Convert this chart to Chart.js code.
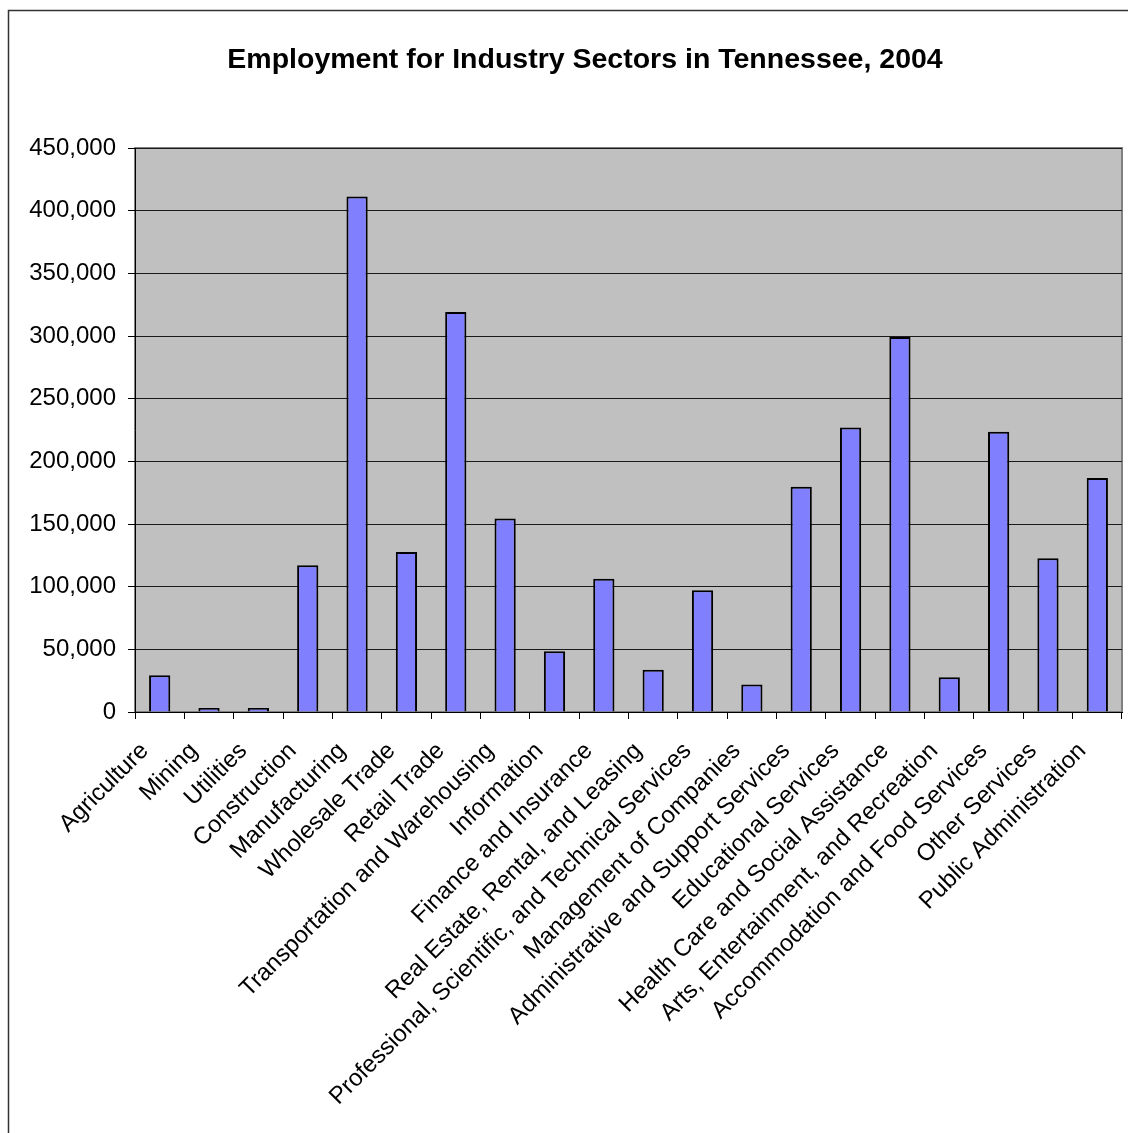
<!DOCTYPE html>
<html>
<head>
<meta charset="utf-8">
<title>Employment for Industry Sectors in Tennessee, 2004</title>
<script src="https://cdn.jsdelivr.net/npm/chart.js@4"></script>
<style>
  html, body { margin: 0; padding: 0; background: #fff; overflow: hidden; }
  #chartBox { position: relative; width: 1128px; height: 1133px; }
  #chartTitle {
      position: absolute; left: 5px; top: 41px; width: 1160px;
      text-align: center; margin: 0;
      font: bold 28.5px 'Liberation Sans', Arial, Helvetica, sans-serif;
      line-height: 34px; color: #000;
  }
</style>
</head>
<body>
<div id="chartBox">
  <canvas id="barChart"></canvas>
  <h1 id="chartTitle">Employment for Industry Sectors in Tennessee, 2004</h1>
</div>
<script>
// Industry sectors along the x axis
var sectors = [
    'Agriculture', 'Mining', 'Utilities', 'Construction', 'Manufacturing',
    'Wholesale Trade', 'Retail Trade', 'Transportation and Warehousing',
    'Information', 'Finance and Insurance', 'Real Estate, Rental, and Leasing',
    'Professional, Scientific, and Technical Services', 'Management of Companies',
    'Administrative and Support Services', 'Educational Services',
    'Health Care and Social Assistance', 'Arts, Entertainment, and Recreation',
    'Accommodation and Food Services', 'Other Services', 'Public Administration'
];

// Number employed in each sector
var employment = [
    29300, 3200, 3200, 117000, 411300,
    127700, 319100, 154300,
    48500, 106400, 33700,
    97200, 21900,
    179700, 226900,
    299300, 27800,
    223700, 122600, 186800
];

// Value axis
var yMin = 0;
var yMax = 450000;
var yStep = 50000;

var FONT = "'Liberation Sans', Arial, Helvetica, sans-serif";

// grey plot area plus the outer chart frame
var plotBackground = {
    id: 'plotBackground',
    beforeDraw: function(chart) {
        var ctx = chart.ctx;
        var a = chart.chartArea;
        ctx.save();
        ctx.strokeStyle = '#333';
        ctx.lineWidth = 1.5;
        ctx.strokeRect(8.5, 10.5, chart.width + 40, chart.height + 40);
        ctx.fillStyle = '#c0c0c0';
        ctx.fillRect(a.left, a.top, a.right - a.left, a.bottom - a.top);
        ctx.strokeStyle = '#808080';
        ctx.lineWidth = 2;
        ctx.strokeRect(a.left, a.top, a.right - a.left, a.bottom - a.top);
        ctx.restore();
    }
};

function initializeBarChart() {
    var ctx = document.getElementById('barChart').getContext('2d');

    new Chart(ctx, {
        type: 'bar',
        data: {
            labels: sectors,
            datasets: [{
                label: 'Employment',
                data: employment,
                backgroundColor: '#8080ff',
                borderColor: '#000',
                borderWidth: 2,
                barPercentage: 0.43,
                categoryPercentage: 1
            }]
        },
        options: {
            responsive: true,
            maintainAspectRatio: false,
            animation: false,
            layout: {
                padding: { left: 0, right: 6, top: 148, bottom: 0 }
            },
            plugins: {
                legend: { display: false },
                tooltip: { enabled: false },
                title: { display: false }
            },
            scales: {
                x: {
                    afterFit: function(scale) {
                        scale.height = 421;
                        scale.paddingLeft = 0;
                        scale.paddingRight = 0;
                    },
                    grid: {
                        offset: true,
                        drawOnChartArea: false,
                        tickLength: 7,
                        tickColor: '#000'
                    },
                    border: { color: '#000', width: 1 },
                    ticks: {
                        autoSkip: false,
                        minRotation: 45,
                        maxRotation: 45,
                        color: '#000',
                        padding: 18,
                        labelOffset: -15,
                        font: { family: FONT, size: 24 }
                    }
                },
                y: {
                    min: yMin,
                    max: yMax,
                    afterFit: function(scale) { scale.width = 135; },
                    grid: {
                        color: '#1a1a1a',
                        lineWidth: 1,
                        tickLength: 7,
                        tickColor: '#000'
                    },
                    border: { color: '#000', width: 1 },
                    ticks: {
                        stepSize: yStep,
                        color: '#000',
                        padding: 12,
                        font: { family: FONT, size: 24 },
                        callback: function(v) { return v.toLocaleString('en-US'); }
                    }
                }
            }
        },
        plugins: [plotBackground]
    });
}

document.addEventListener('DOMContentLoaded', initializeBarChart);
</script>
</body>
</html>
